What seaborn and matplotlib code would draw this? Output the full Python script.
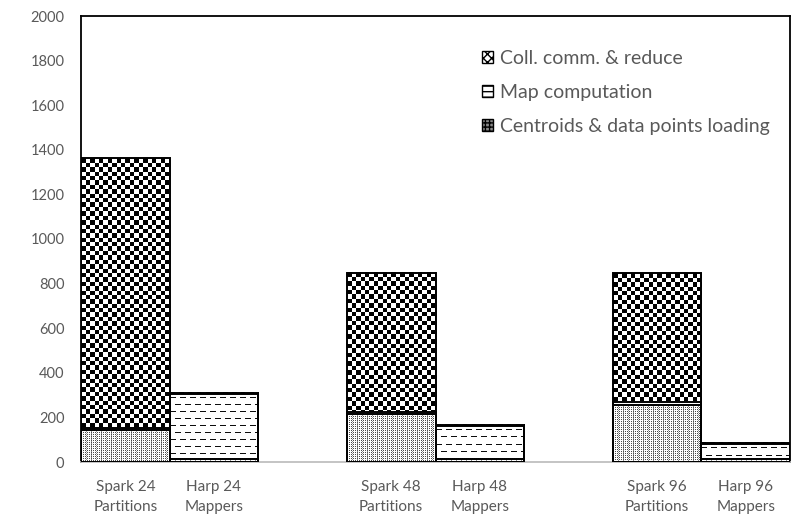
import numpy as np
import pandas as pd
import matplotlib
matplotlib.use("Agg")
import matplotlib.pyplot as plt
import matplotlib.patches as mpatches
import seaborn as sns

# Data
groups = [
    "Spark 24\nPartitions", "Harp 24\nMappers",
    "Spark 48\nPartitions", "Harp 48\nMappers",
    "Spark 96\nPartitions", "Harp 96\nMappers",
]
loading = [143, 15, 215, 15, 255, 15]
map_comp = [10, 290, 8, 145, 15, 65]
coll_comm = [1210, 5, 624, 5, 577, 5]
legend_labels = ["Coll. comm. & reduce", "Map computation", "Centroids & data points loading"]
y_ticks = [0, 200, 400, 600, 800, 1000, 1200, 1400, 1600, 1800, 2000]

# slot order with empty gaps between the groups
order = [groups[0], groups[1], "gap1", groups[2], groups[3], "gap2", groups[4], groups[5]]

df = pd.DataFrame({"label": groups, "load": loading, "map": map_comp, "coll": coll_comm})
df["top_load"] = df["load"]
df["top_map"] = df["load"] + df["map"]
df["top_coll"] = df["top_map"] + df["coll"]

sns.set_style("white")
plt.rcParams["font.family"] = ["Lato", "DejaVu Sans"]
text_color = "#595959"

fig = plt.figure(figsize=(8.06, 5.14), dpi=100)
ax = fig.add_axes([81 / 806, 1 - 462 / 514, (790 - 81) / 806, (462 - 16) / 514])

for col in ["top_coll", "top_map", "top_load"]:
    sns.barplot(data=df, x="label", y=col, order=order, width=1.0, color="white",
                edgecolor="black", linewidth=1.4, saturation=1, ax=ax, zorder=3)

ax.set_xlim(-0.5, 7.5)
ax.set_ylim(0, 2000)
fig.canvas.draw()


def texture(kind, w, h):
    yy, xx = np.mgrid[0:h, 0:w]
    arr = np.ones((h, w))
    if kind == "coll":
        cell = 4.4
        arr = ((np.floor(xx / cell) + np.floor(yy / cell)) % 2).astype(float)
    elif kind == "map":
        row = (yy % 7 == 3)
        shift = ((yy // 7) % 2) * 5
        dash = ((xx + shift) % 10) < 6
        arr[row & dash] = 0.05
    else:
        arr[(xx % 2 == 0) & (yy % 2 == 0)] = 0.3
        arr[(xx % 5 == 0) & (yy % 2 == 1)] = 0.55
    return arr


# fill each stacked segment with its texture
bottoms = {"top_coll": "top_map", "top_map": "top_load", "top_load": None}
kinds = {"top_coll": "coll", "top_map": "map", "top_load": "load"}
for cont, col in zip(ax.containers, ["top_coll", "top_map", "top_load"]):
    for patch in cont.patches:
        patch.set_facecolor("none")
    for patch, (_, row) in zip(cont.patches, df.iterrows()):
        x0 = patch.get_x()
        x1 = x0 + patch.get_width()
        y1 = row[col]
        y0 = row[bottoms[col]] if bottoms[col] else 0
        if y1 - y0 <= 0:
            continue
        (px0, py0), (px1, py1) = ax.transData.transform([(x0, y0), (x1, y1)])
        w = max(int(round(px1 - px0)), 1)
        h = max(int(round(py1 - py0)), 1)
        ax.imshow(texture(kinds[col], w, h), extent=(x0, x1, y0, y1), cmap="gray",
                  vmin=0, vmax=1, interpolation="nearest", aspect="auto", zorder=2)

ax.set_xlim(-0.5, 7.5)
ax.set_ylim(0, 2000)

ax.set_xticks([0, 1, 3, 4, 6, 7])
ax.set_xticklabels(groups, fontsize=11, color=text_color, linespacing=1.5)
ax.set_yticks(y_ticks)
ax.set_yticklabels([str(v) for v in y_ticks], fontsize=10.5, color=text_color)
ax.tick_params(axis="x", length=0, pad=13)
ax.tick_params(axis="y", length=0, pad=12)
ax.set_xlabel("")
ax.set_ylabel("")

for side in ["left", "top", "right"]:
    ax.spines[side].set_visible(True)
    ax.spines[side].set_color("black")
    ax.spines[side].set_linewidth(1.3)
ax.spines["bottom"].set_color("#bfbfbf")
ax.spines["bottom"].set_linewidth(1.3)

handles = [
    mpatches.Patch(facecolor="white", edgecolor="black", hatch="xxxx", label=legend_labels[0]),
    mpatches.Patch(facecolor="white", edgecolor="black", hatch="---", label=legend_labels[1]),
    mpatches.Patch(facecolor="#888888", edgecolor="black", hatch="++++", label=legend_labels[2]),
]
leg = fig.legend(handles=handles, loc="upper left", bbox_to_anchor=(482 / 806, 1 - 50 / 514),
                 frameon=False, fontsize=14, handlelength=0.55, handleheight=0.55,
                 handletextpad=0.35, labelspacing=0.88, borderpad=0, borderaxespad=0)
for t in leg.get_texts():
    t.set_color(text_color)

fig.savefig("out.png", dpi=100)
